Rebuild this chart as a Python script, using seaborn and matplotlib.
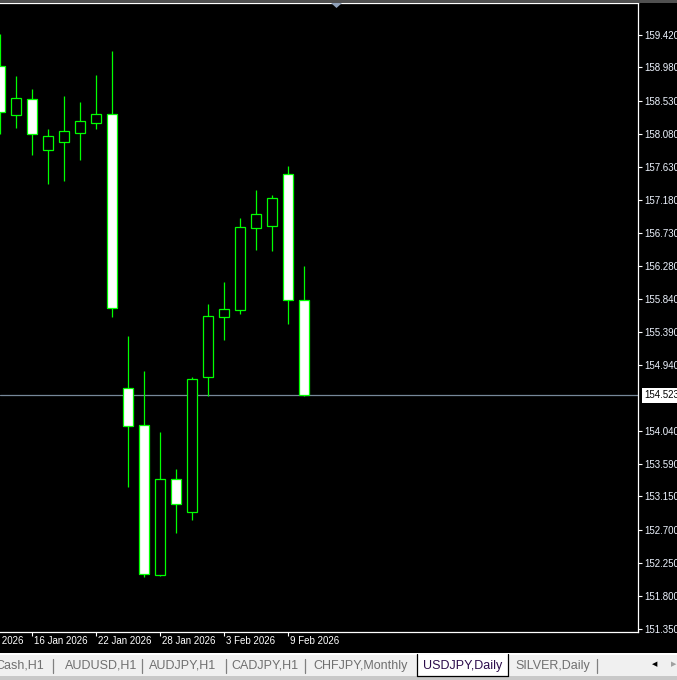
import matplotlib.pyplot as plt
import matplotlib.transforms as mtransforms
from matplotlib.patches import Rectangle, Polygon
from matplotlib.lines import Line2D
import numpy as np
import pandas as pd
import seaborn as sns

# daily USDJPY candles
dates = ['14 Jan 2026', '15 Jan 2026', '16 Jan 2026', '19 Jan 2026', '20 Jan 2026',
         '21 Jan 2026', '22 Jan 2026', '23 Jan 2026', '26 Jan 2026', '27 Jan 2026',
         '28 Jan 2026', '29 Jan 2026', '30 Jan 2026', '2 Feb 2026', '3 Feb 2026',
         '4 Feb 2026', '5 Feb 2026', '6 Feb 2026', '9 Feb 2026', '10 Feb 2026']
open_ = [158.999, 158.337, 158.546, 157.862, 157.970, 158.093, 158.229, 158.343, 154.620, 154.117,
         152.088, 153.384, 152.944, 154.778, 155.593, 155.688, 156.802, 156.829, 157.527, 155.816]
high = [159.434, 158.863, 158.686, 158.143, 158.591, 158.510, 158.877, 159.203, 155.331, 154.855,
        154.026, 153.524, 154.774, 155.765, 156.064, 156.934, 157.314, 157.246, 157.640, 156.282]
low = [158.079, 158.161, 157.794, 157.400, 157.441, 157.726, 158.147, 155.593, 153.283, 152.061,
       152.074, 152.658, 152.835, 154.515, 155.276, 155.634, 156.503, 156.490, 155.498, 154.510]
close = [158.374, 158.560, 158.071, 158.044, 158.112, 158.248, 158.343, 155.707, 154.112, 152.101,
         153.384, 153.052, 154.742, 155.598, 155.693, 156.807, 156.984, 157.201, 155.824, 154.523]

axis_dates = ['12 Jan 2026', '16 Jan 2026', '22 Jan 2026', '28 Jan 2026', '3 Feb 2026', '9 Feb 2026']
price_ticks = [159.420, 158.980, 158.530, 158.080, 157.630, 157.180, 156.730, 156.280, 155.840,
               155.390, 154.940, 154.040, 153.590, 153.150, 152.700, 152.250, 151.800, 151.350]
last_price = 154.523
tabs = ['Cash,H1', 'AUDUSD,H1', 'AUDJPY,H1', 'CADJPY,H1', 'CHFJPY,Monthly', 'USDJPY,Daily', 'SILVER,Daily']
active_tab = 'USDJPY,Daily'

df = pd.DataFrame({'date': dates, 'open': open_, 'high': high, 'low': low, 'close': close})
df['pos'] = np.arange(len(df))
df['bear'] = df['close'] < df['open']

sns.set_style('dark', {'axes.facecolor': 'black', 'figure.facecolor': 'black'})
plt.rcParams['font.family'] = ['Liberation Sans', 'DejaVu Sans']

W, H = 677, 680
fig = plt.figure(figsize=(W / 100, H / 100), dpi=100)
fig.patch.set_facecolor('black')
ax = fig.add_axes([0, 1 - 632 / H, 638 / W, 629 / H])
ax.set_facecolor('black')

green = '#00ff00'
# wicks then bodies
ax.vlines(df['pos'], df['low'], df['high'], color=green, lw=0.9, zorder=2)
ax.bar(df['pos'], df['close'] - df['open'], bottom=df['open'], width=0.63,
       color=np.where(df['bear'], 'white', 'black'), edgecolor=green, linewidth=0.9, zorder=3)

ax.axhline(last_price, color='#778899', lw=0.9, zorder=1)

ax.set_xlim(0, 638 / 16)
ax.set_ylim(151.309, 159.855)
ax.grid(False)

for s in ['top', 'right', 'bottom']:
    ax.spines[s].set_color('white')
    ax.spines[s].set_linewidth(0.9)
ax.spines['left'].set_visible(False)

# price axis on the right
ax.yaxis.tick_right()
ax.set_yticks(price_ticks)
ax.set_yticklabels(['%.3f' % p for p in price_ticks])
ax.tick_params(axis='y', colors='white', length=3, width=0.8, pad=1.5, labelsize=7, labelcolor='#eef4ff')

# date axis
tick_idx = np.arange(-2, len(dates), 4)
ax.set_xticks(tick_idx[tick_idx >= 0])
ax.set_xticklabels([])
ax.tick_params(axis='x', colors='white', length=3, width=0.8, bottom=True)
lab_tr = mtransforms.offset_copy(ax.get_xaxis_transform(), fig=fig, x=2, y=-9, units='dots')
for i, lab in zip(tick_idx, axis_dates):
    ax.text(i, 0, lab, transform=lab_tr, ha='left', va='center', color='white',
            fontsize=7, clip_on=False)

# last price box
pr_tr = mtransforms.offset_copy(ax.get_yaxis_transform(), fig=fig, x=6, y=0, units='dots')
ax.text(1, last_price, '%.3f' % last_price, transform=pr_tr, ha='left', va='center', color='black',
        fontsize=7, clip_on=False,
        bbox=dict(facecolor='white', edgecolor='none', boxstyle='square,pad=0.25'))


def fx(x):
    return x / W


def fy(y):
    return 1 - y / H


# top strip and scroll marker
fig.patches.append(Rectangle((0, fy(3)), 1, 3 / H, transform=fig.transFigure,
                             facecolor='#505050', edgecolor='none'))
fig.patches.append(Polygon([(fx(331), fy(3)), (fx(342), fy(3)), (fx(336.5), fy(8))], closed=True,
                           transform=fig.transFigure, facecolor='#8fa0b8', edgecolor='none'))

# tab bar
fig.patches.append(Rectangle((0, 0), 1, fy(653), transform=fig.transFigure,
                             facecolor='white', edgecolor='none'))
fig.patches.append(Rectangle((0, fy(676)), 1, (676 - 655) / H, transform=fig.transFigure,
                             facecolor='#f0f0f0', edgecolor='none'))
fig.patches.append(Rectangle((0, 0), 1, 4 / H, transform=fig.transFigure,
                             facecolor='#c8c8c8', edgecolor='none'))

tab_centers = [20, 101, 183, 265, 361, 462.5, 553]
for name, cx in zip(tabs, tab_centers):
    if name == active_tab:
        fig.patches.append(Rectangle((fx(417), fy(676)), 91 / W, 22 / H, transform=fig.transFigure,
                                     facecolor='white', edgecolor='none'))
        for xs, ys in [([417, 417], [654, 676]), ([508, 508], [654, 676]), ([417, 508], [676, 676])]:
            fig.lines.append(Line2D([fx(v) for v in xs], [fy(v) for v in ys], transform=fig.transFigure,
                                    color='black', lw=0.9))
        fig.text(fx(cx), fy(666), name, ha='center', va='center', fontsize=9, color='#2b0b4b')
    else:
        fig.text(fx(cx), fy(666), name, ha='center', va='center', fontsize=9, color='#707070')

for sx in [53, 142, 226, 305, 597]:
    fig.lines.append(Line2D([fx(sx), fx(sx)], [fy(659), fy(673)], transform=fig.transFigure,
                            color='#808080', lw=0.9))

fig.text(fx(655), fy(664), '\u25c0', ha='center', va='center', fontsize=5, color='black',
         family='DejaVu Sans')
fig.text(fx(674), fy(664), '\u25b6', ha='center', va='center', fontsize=5, color='#a0a0a0',
         family='DejaVu Sans')

fig.savefig('out.png', dpi=100, facecolor='black')
